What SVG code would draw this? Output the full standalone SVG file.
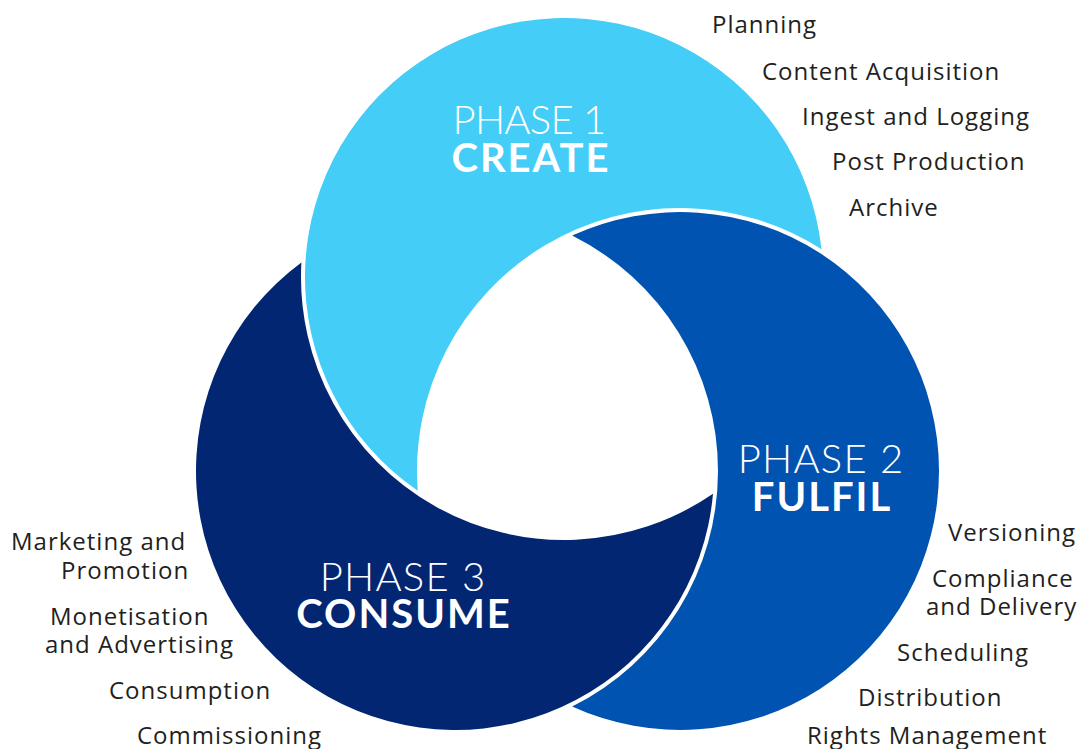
<svg xmlns="http://www.w3.org/2000/svg" width="1079" height="749" viewBox="0 0 1079 749">
<style>
.ph{font-family:Lato,"Open Sans","Liberation Sans",sans-serif;font-weight:300;font-size:40px;letter-spacing:1.2px;fill:#fff;text-anchor:middle}
.nm{font-family:Lato,"Open Sans","Liberation Sans",sans-serif;font-weight:700;font-size:40px;letter-spacing:2px;fill:#fff;text-anchor:middle}
.lb{font-family:"Open Sans","Liberation Sans",sans-serif;font-size:24px;letter-spacing:1px;fill:#231f20}
.c1{fill:#43cdf7}
.c2{fill:#0053b0}
.c3{fill:#032672}
</style>
<rect width="1079" height="749" fill="#fff"/>
<g id="phase1">
<path class="c1" d="M 821.52 249.33 A 259 259 0 1 0 417.74 490.75 A 263 263 0 0 1 821.52 249.33 Z"/>
<text class="ph" x="530" y="134" textLength="155">PHASE 1</text>
<text class="nm" x="531" y="172">CREATE</text>
</g>
<g id="phase2">
<path class="c2" d="M 572.14 235.53 A 259 259 0 1 1 572.14 706.47 A 263 263 0 0 0 572.14 235.53 Z"/>
<text class="ph" x="821" y="473">PHASE 2</text>
<text class="nm" x="822" y="511">FULFIL</text>
</g>
<g id="phase3">
<path class="c3" d="M 301.40 262.46 A 259 259 0 1 0 713.00 493.72 A 263 263 0 0 1 301.40 262.46 Z"/>
<text class="ph" x="403" y="591">PHASE 3</text>
<text class="nm" x="404" y="628">CONSUME</text>
</g>
<g id="connectors"/>
<g id="create-tasks">
<text class="lb" x="712" y="33">Planning</text>
<text class="lb" x="762" y="80">Content Acquisition</text>
<text class="lb" x="802" y="125">Ingest and Logging</text>
<text class="lb" x="832" y="170">Post Production</text>
<text class="lb" x="849" y="216">Archive</text>
</g>
<g id="fulfil-tasks">
<text class="lb" x="948" y="541">Versioning</text>
<text class="lb" x="932" y="587">Compliance</text>
<text class="lb" x="926" y="615">and Delivery</text>
<text class="lb" x="897" y="661">Scheduling</text>
<text class="lb" x="858" y="706">Distribution</text>
<text class="lb" x="807" y="744">Rights Management</text>
</g>
<g id="consume-tasks">
<text class="lb" x="11" y="550">Marketing and</text>
<text class="lb" x="61" y="579">Promotion</text>
<text class="lb" x="50" y="625">Monetisation</text>
<text class="lb" x="45" y="653">and Advertising</text>
<text class="lb" x="109" y="699">Consumption</text>
<text class="lb" x="137" y="744">Commissioning</text>
</g>
</svg>
